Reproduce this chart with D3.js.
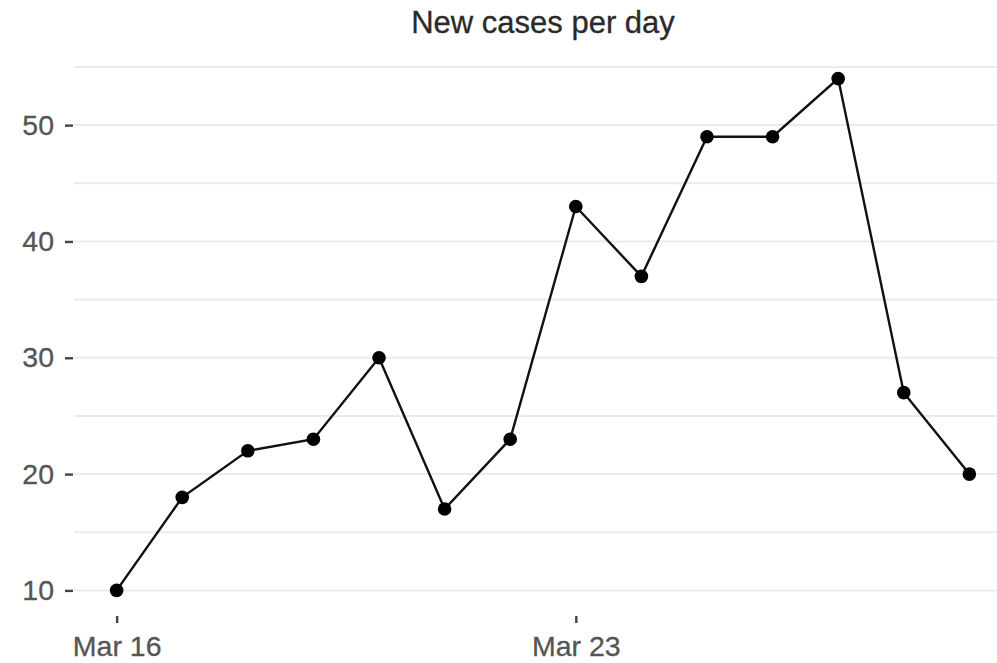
<!DOCTYPE html>
<html>
<head>
<meta charset="utf-8">
<script src="https://cdn.jsdelivr.net/npm/d3@7"></script>
<style>
  html, body { margin: 0; padding: 0; background: #fff; }
  svg { display: block; }
</style>
</head>
<body>
<svg id="chart" width="997" height="663"></svg>
<script>
const dates = ["2020-03-16","2020-03-17","2020-03-18","2020-03-19","2020-03-20","2020-03-21","2020-03-22",
               "2020-03-23","2020-03-24","2020-03-25","2020-03-26","2020-03-27","2020-03-28","2020-03-29"];
const newCases = [10, 18, 22, 23, 30, 17, 23, 43, 37, 49, 49, 54, 27, 20];
const yTicks = [10, 20, 30, 40, 50];
const yMinorTicks = [15, 25, 35, 45, 55];
const xTickDates = ["2020-03-16", "2020-03-23"];
const titleText = "New cases per day";

const parse = d3.timeParse("%Y-%m-%d");
const data = dates.map((d, i) => ({ date: parse(d), value: newCases[i] }));

const svg = d3.select("#chart");
const panel = { left: 74, right: 1012, top: 53, bottom: 616 };

const xExt = d3.extent(data, d => d.date);
const xPad = (xExt[1] - xExt[0]) * 0.05;
const x = d3.scaleTime()
  .domain([new Date(+xExt[0] - xPad), new Date(+xExt[1] + xPad)])
  .range([panel.left, panel.right]);

const yExt = d3.extent(data, d => d.value);
const yPad = (yExt[1] - yExt[0]) * 0.05;
const y = d3.scaleLinear()
  .domain([yExt[0] - yPad, yExt[1] + yPad])
  .range([panel.bottom, panel.top]);

const font = "'Liberation Sans', Arial, sans-serif";

// gridlines
svg.append("g").selectAll("line.minor").data(yMinorTicks).join("line")
  .attr("x1", panel.left).attr("x2", 997)
  .attr("y1", d => y(d)).attr("y2", d => y(d))
  .attr("stroke", "#ebebeb").attr("stroke-width", 2);
svg.append("g").selectAll("line.major").data(yTicks).join("line")
  .attr("x1", panel.left).attr("x2", 997)
  .attr("y1", d => y(d)).attr("y2", d => y(d))
  .attr("stroke", "#ebebeb").attr("stroke-width", 2);

// y axis
const yAxis = d3.axisLeft(y).tickValues(yTicks).tickSize(8).tickPadding(11);
const gy = svg.append("g").attr("transform", `translate(${panel.left - 1},0)`).call(yAxis);
gy.select(".domain").remove();
gy.selectAll(".tick line").attr("stroke", "#444").attr("stroke-width", 2.4);
gy.selectAll(".tick text").attr("fill", "#555").attr("font-size", 28.5).attr("font-family", font)
  .attr("stroke", "#555").attr("stroke-width", 0.3);

// x axis
const xAxis = d3.axisBottom(x).tickValues(xTickDates.map(parse))
  .tickFormat(d3.timeFormat("%b %d")).tickSize(7).tickPadding(13);
const gx = svg.append("g").attr("transform", `translate(0,${panel.bottom})`).call(xAxis);
gx.select(".domain").remove();
gx.selectAll(".tick line").attr("stroke", "#444").attr("stroke-width", 2.4);
gx.selectAll(".tick text").attr("fill", "#555").attr("font-size", 28.5).attr("font-family", font)
  .attr("stroke", "#555").attr("stroke-width", 0.3);

// line
const line = d3.line().x(d => x(d.date)).y(d => y(d.value));
svg.append("path").datum(data)
  .attr("d", line)
  .attr("fill", "none")
  .attr("stroke", "#111")
  .attr("stroke-width", 2.4);

// points
svg.append("g").selectAll("circle").data(data).join("circle")
  .attr("cx", d => x(d.date)).attr("cy", d => y(d.value))
  .attr("r", 6.8).attr("fill", "#000");

// title
svg.append("text")
  .attr("x", (panel.left + panel.right) / 2)
  .attr("y", 33)
  .attr("text-anchor", "middle")
  .attr("font-family", font)
  .attr("font-size", 31)
  .attr("fill", "#2a2a2a")
  .attr("stroke", "#2a2a2a").attr("stroke-width", 0.3)
  .text(titleText);
</script>
</body>
</html>
